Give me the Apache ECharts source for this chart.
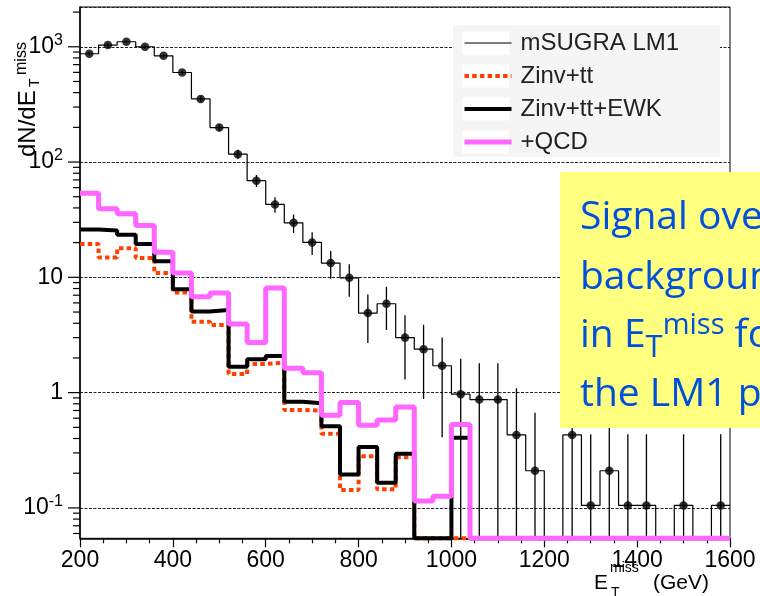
<!DOCTYPE html>
<html>
<head>
<meta charset="utf-8">
<script src="https://cdn.jsdelivr.net/npm/echarts@6/dist/echarts.min.js"></script>
<style>
  html, body { margin: 0; padding: 0; background: #fff; }
  #chart { width: 760px; height: 596px; }
</style>
</head>
<body>
<div id="chart"></div>
<script>
// Missing transverse energy spectrum, 40 GeV bins from 200 to 1600 GeV
const binEdges = [200, 240, 280, 320, 360, 400, 440, 480, 520, 560, 600, 640, 680, 720, 760, 800, 840, 880,
                  920, 960, 1000, 1040, 1080, 1120, 1160, 1200, 1240, 1280, 1320, 1360, 1400, 1440, 1480, 1520, 1560, 1600];

// mSUGRA LM1 signal: bin contents and their uncertainties
const signalValues = [870, 1035, 1105, 1000, 835, 598, 353, 199, 117, 69, 42.9, 29.7, 20.1, 13.3, 9.9, 4.9, 5.9, 3.0,
                      2.38, 1.71, 0.97, 0.87, 0.87, 0.43, 0.21, 0, 0.43, 0.105, 0.21, 0.105, 0.105, 0, 0.105, 0, 0.105];
const signalErrors = [29.5, 32.2, 33.2, 31.6, 28.9, 24.5, 18.8, 14.1, 10.8, 8.3, 6.5, 5.4, 4.5, 3.6, 3.1, 2.2, 2.4, 1.7,
                      1.5, 1.3, 1.0, 0.93, 0.93, 0.66, 0.46, 0, 0.66, 0.33, 0.46, 0.33, 0.33, 0, 0.33, 0, 0.33];

// Cumulative backgrounds
const zinvTt = [19.5, 14.9, 17.9, 14.7, 10.9, 7.4, 4.12, 3.86, 1.45, 1.77, 1.82, 0.706, 0.70, 0.44, 0.143, 0.281, 0.145, 0.275,
                0, 0, 0, 0, 0, 0, 0, 0, 0, 0, 0, 0, 0, 0, 0, 0, 0];
const zinvTtEwk = [26.0, 25.5, 23.4, 19.5, 13.8, 7.9, 5.06, 5.2, 1.68, 1.95, 2.08, 0.835, 0.81, 0.51, 0.195, 0.337, 0.165, 0.295,
                   0, 0, 0.406, 0, 0, 0, 0, 0, 0, 0, 0, 0, 0, 0, 0, 0, 0];
const plusQcd = [53.7, 39.4, 35.6, 28.2, 16.5, 10.9, 6.8, 7.3, 3.93, 2.72, 8.1, 1.63, 1.49, 0.636, 0.82, 0.52, 0.58, 0.75,
                 0.115, 0.126, 0.53, 0, 0, 0, 0, 0, 0, 0, 0, 0, 0, 0, 0, 0, 0];

const seriesNames = ['mSUGRA LM1', 'Zinv+tt', 'Zinv+tt+EWK', '+QCD'];

// Axis ranges and tick labels
const X_MIN = 200, X_MAX = 1600, X_STEP = 200;
const Y_MIN = 0.0545, Y_MAX = 2213;
const yTickValues = [0.1, 1, 10, 100, 1000];
const yTickLabels = ['10{e|-1}', '1', '10', '10{e|2}', '10{e|3}'];

// Log-axis tick marks: decades long, 2..9 multiples short
const yTicks = [];
for (let p = -2; p <= 3; p++) {
  for (let m = 1; m <= 9; m++) {
    const v = m * Math.pow(10, p);
    if (v >= Y_MIN && v <= Y_MAX) yTicks.push([X_MIN, v, m === 1 ? 12 : 7]);
  }
}

// Histogram outline: left edge of each bin plus closing point; empty bins sit on the frame
function histPoints(vals) {
  const pts = vals.map((v, i) => [binEdges[i], v > 0 ? v : Y_MIN]);
  const last = vals[vals.length - 1];
  pts.push([binEdges[vals.length], last > 0 ? last : Y_MIN]);
  return pts;
}

const signalPoints = [];
const signalBars = [];
signalValues.forEach((v, i) => {
  if (v <= 0) return;
  const c = (binEdges[i] + binEdges[i + 1]) / 2;
  signalPoints.push([c, v]);
  const lo = v - signalErrors[i];
  signalBars.push([c, lo > 0 ? lo : 1e-4, v + signalErrors[i]]);
});

const FONT = 'Liberation Sans, Arial, Helvetica, sans-serif';
const NOTE_FONT = 'Open Sans';
const NOTE_COLOR = '#0050dc';
const chart = echarts.init(document.getElementById('chart'), null, { renderer: 'canvas' });

chart.setOption({
  animation: false,
  backgroundColor: '#ffffff',
  grid: { left: 80, top: 7, width: 650, height: 531.3, show: true, borderColor: '#000', borderWidth: 1, backgroundColor: 'transparent' },
  xAxis: {
    type: 'value', min: X_MIN, max: X_MAX, interval: X_STEP,
    axisLine: { show: true, lineStyle: { color: '#000', width: 1.5 } },
    axisTick: { show: true, length: 9, lineStyle: { color: '#000', width: 1.2 } },
    minorTick: { show: true, splitNumber: 4, length: 5, lineStyle: { color: '#000', width: 1.2 } },
    axisLabel: { color: '#000', fontFamily: FONT, fontSize: 23, margin: 11, formatter: v => String(v) },
    splitLine: { show: false }
  },
  yAxis: {
    type: 'log', logBase: 10, min: Y_MIN, max: Y_MAX,
    axisLine: { show: true, lineStyle: { color: '#000', width: 1.5 } },
    axisTick: { show: false },
    axisLabel: {
      color: '#000', fontFamily: FONT, fontSize: 23, margin: 17,
      formatter: function (v) {
        const i = yTickValues.findIndex(t => Math.abs(t - v) / t < 1e-6);
        return i < 0 ? '' : yTickLabels[i];
      },
      rich: { e: { fontSize: 16, fontFamily: FONT, color: '#000', padding: [0, 0, 12, 0] } }
    },
    splitLine: { show: true, lineStyle: { color: '#222', width: 1, type: [3, 1.5] } }
  },
  legend: {
    data: seriesNames, orient: 'vertical', left: 462, top: 31, padding: 0,
    itemWidth: 47, itemHeight: 22, itemGap: 9, selectedMode: false,
    lineStyle: { width: 'inherit' },
    itemStyle: { opacity: 0 },
    textStyle: { fontFamily: FONT, fontSize: 24, color: '#222', lineHeight: 24, padding: [0, 0, 0, 4] },
    z: 4
  },
  graphic: [
    // legend panel
    { type: 'rect', z: 3, shape: { x: 453, y: 25, width: 267, height: 132 }, style: { fill: '#f5f5f5' } },
    { type: 'rect', z: 3, shape: { x: 462, y: 31.5, width: 47, height: 23 }, style: { fill: '#ffffff' } },
    { type: 'rect', z: 3, shape: { x: 462, y: 64.5, width: 47, height: 23 }, style: { fill: '#ffffff' } },
    { type: 'rect', z: 3, shape: { x: 462, y: 97.5, width: 47, height: 23 }, style: { fill: '#ffffff' } },
    { type: 'rect', z: 3, shape: { x: 462, y: 130.5, width: 47, height: 23 }, style: { fill: '#ffffff' } },
    // y-axis title, reading bottom to top
    {
      type: 'group', x: 37, y: 157, rotation: Math.PI / 2,
      children: [
        { type: 'text', x: 0, y: -8.3, style: { text: 'dN/dE', fontFamily: FONT, fontSize: 24, fill: '#000', align: 'left', verticalAlign: 'middle' } },
        { type: 'text', x: 70, y: -1.8, style: { text: 'T', fontFamily: FONT, fontSize: 14, fill: '#000', align: 'left', verticalAlign: 'middle' } },
        { type: 'text', x: 82, y: -15.5, style: { text: 'miss', fontFamily: FONT, fontSize: 16, fill: '#000', align: 'left', verticalAlign: 'middle' } }
      ]
    },
    // x-axis title
    { type: 'text', x: 594, y: 583.4, style: { text: 'E', fontFamily: FONT, fontSize: 21, fill: '#000', align: 'left', verticalAlign: 'middle' } },
    { type: 'text', x: 611, y: 593, style: { text: 'T', fontFamily: FONT, fontSize: 14, fill: '#000', align: 'left', verticalAlign: 'middle' } },
    { type: 'text', x: 610, y: 568, style: { text: 'miss', fontFamily: FONT, fontSize: 14, fill: '#000', align: 'left', verticalAlign: 'middle' } },
    { type: 'text', x: 653, y: 583.4, style: { text: '(GeV)', fontFamily: FONT, fontSize: 21, fill: '#000', align: 'left', verticalAlign: 'middle' } },
    // annotation box
    { type: 'rect', z: 100, shape: { x: 560, y: 172, width: 220, height: 256 }, style: { fill: '#ffff80' } },
    { type: 'text', z: 101, x: 580, y: 218, style: { text: 'Signal over', fontFamily: NOTE_FONT, fontSize: 39, fill: NOTE_COLOR, align: 'left', verticalAlign: 'middle' } },
    { type: 'text', z: 101, x: 580, y: 278, style: { text: 'background', fontFamily: NOTE_FONT, fontSize: 39, fill: NOTE_COLOR, align: 'left', verticalAlign: 'middle' } },
    {
      type: 'text', z: 101, x: 580, y: 336,
      style: {
        text: 'in E{t|T}{m|miss} for', fontFamily: NOTE_FONT, fontSize: 39, fill: NOTE_COLOR, align: 'left', verticalAlign: 'middle',
        rich: {
          t: { fontFamily: NOTE_FONT, fontSize: 31, fill: NOTE_COLOR, padding: [25, 0, 0, 0] },
          m: { fontFamily: NOTE_FONT, fontSize: 29, fill: NOTE_COLOR, padding: [0, 0, 20, 0] }
        }
      }
    },
    { type: 'text', z: 101, x: 580, y: 395, style: { text: 'the LM1 point', fontFamily: NOTE_FONT, fontSize: 39, fill: NOTE_COLOR, align: 'left', verticalAlign: 'middle' } }
  ],
  series: [
    {
      name: seriesNames[0], type: 'line', step: 'end', data: histPoints(signalValues),
      symbol: 'none', clip: false, z: 2, silent: true,
      lineStyle: { color: '#000', width: 1.2 }, itemStyle: { color: '#000' }
    },
    {
      name: 'signal-errors', type: 'custom', coordinateSystem: 'cartesian2d', clip: true, z: 2, silent: true,
      data: signalBars, encode: { x: 0, y: [1, 2] },
      renderItem: function (params, api) {
        const top = api.coord([api.value(0), api.value(2)]);
        const bot = api.coord([api.value(0), api.value(1)]);
        return { type: 'line', shape: { x1: top[0], y1: top[1], x2: bot[0], y2: bot[1] }, style: { stroke: '#000', lineWidth: 1.3 } };
      }
    },
    {
      name: 'signal-points', type: 'scatter', data: signalPoints, symbol: 'circle', symbolSize: 8.5,
      itemStyle: { color: '#000' }, z: 3, silent: true
    },
    {
      name: seriesNames[1], type: 'line', step: 'end', data: histPoints(zinvTt),
      symbol: 'none', clip: false, z: 4, silent: true,
      lineStyle: { color: '#ff4000', width: 4, type: [4.5, 3.2] }, itemStyle: { color: '#ff4000' }
    },
    {
      name: seriesNames[2], type: 'line', step: 'end', data: histPoints(zinvTtEwk),
      symbol: 'none', clip: false, z: 5, silent: true,
      lineStyle: { color: '#000', width: 4 }, itemStyle: { color: '#000' }
    },
    {
      name: seriesNames[3], type: 'line', step: 'end', data: histPoints(plusQcd),
      symbol: 'none', clip: false, z: 6, silent: true,
      lineStyle: { color: '#ff66ff', width: 5 }, itemStyle: { color: '#ff66ff' }
    },
    {
      name: 'y-ticks', type: 'custom', coordinateSystem: 'cartesian2d', clip: false, z: 1, silent: true,
      data: yTicks, encode: { x: 0, y: 1 },
      renderItem: function (params, api) {
        const p = api.coord([api.value(0), api.value(1)]);
        const len = api.value(2);
        return { type: 'line', shape: { x1: p[0] - len, y1: p[1], x2: p[0], y2: p[1] }, style: { stroke: '#000', lineWidth: 1.2 } };
      }
    }
  ]
});
</script>
</body>
</html>
